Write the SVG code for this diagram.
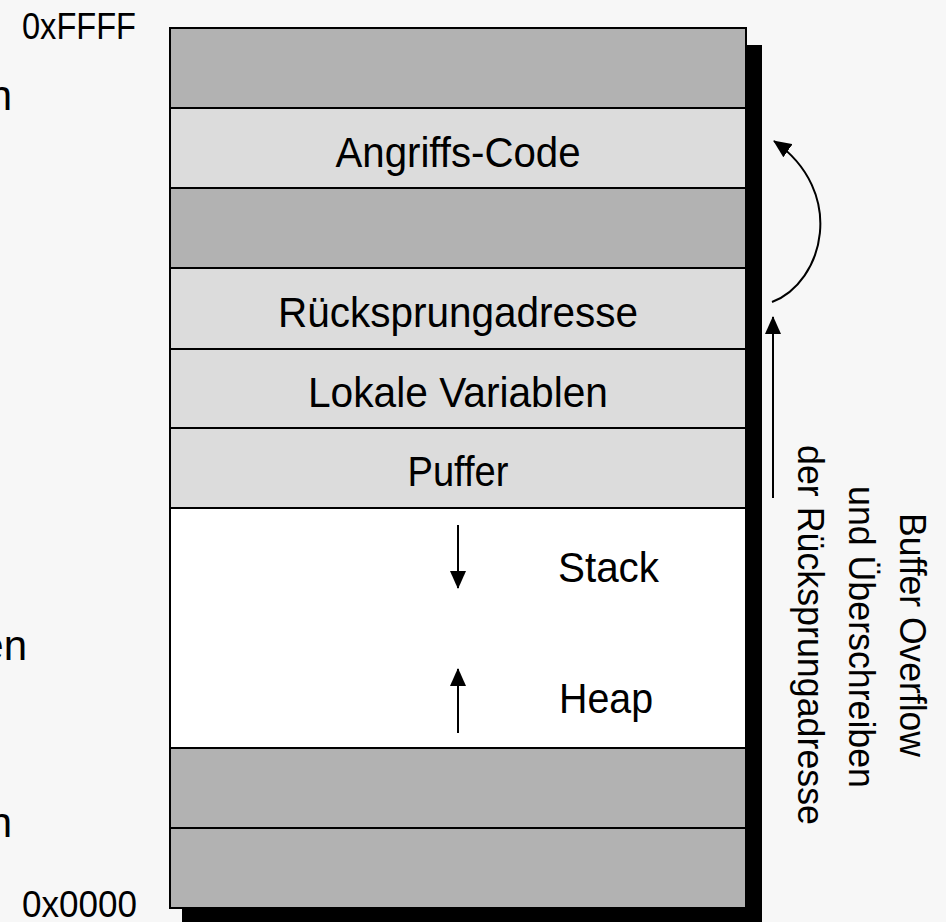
<svg xmlns="http://www.w3.org/2000/svg" width="946" height="922" viewBox="0 0 946 922">
  <style>
    text { font-family: "Liberation Sans", Arial, sans-serif; fill: #000; }
    .lbl { font-size: 42px; text-anchor: middle; }
    .lft { font-size: 42px; text-anchor: start; }
    .addr { font-size: 37px; }
    .side { font-size: 37px; text-anchor: middle; }
    .dark { fill: #b2b2b2; stroke: #000; stroke-width: 2; }
    .light { fill: #dcdcdc; stroke: #000; stroke-width: 2; }
    .white { fill: #ffffff; stroke: #000; stroke-width: 2; }
    .conn { fill: none; stroke: #000; stroke-width: 2; }
  </style>
  <defs>
    <marker id="ahBig" viewBox="0 0 18 16" refX="17" refY="8" markerWidth="18" markerHeight="16" orient="auto" markerUnits="userSpaceOnUse">
      <path d="M0,0 L18,8 L0,16 Z" fill="#000"/>
    </marker>
  </defs>
  <rect x="0" y="0" width="946" height="922" fill="#f7f7f7"/>

  <g id="left-texts">
    <text class="addr" x="22" y="39" textLength="114" lengthAdjust="spacingAndGlyphs">0xFFFF</text>
    <text class="addr" x="22" y="917" textLength="115" lengthAdjust="spacingAndGlyphs">0x0000</text>
    <text x="12" y="110" font-size="42" text-anchor="end">n</text>
    <text x="27" y="660" font-size="42" text-anchor="end">en</text>
    <text x="12" y="837" font-size="42" text-anchor="end">n</text>
  </g>

  <g id="shadow">
    <rect x="182" y="45" width="580" height="890" fill="#000"/>
  </g>

  <g id="mem-top"><rect class="dark" x="170" y="28" width="576" height="80"/></g>
  <g id="mem-angriffscode"><rect class="light" x="170" y="108" width="576" height="80"/><text class="lbl" x="458" y="167" textLength="245" lengthAdjust="spacingAndGlyphs">Angriffs-Code</text></g>
  <g id="mem-dark2"><rect class="dark" x="170" y="188" width="576" height="80"/></g>
  <g id="mem-ruecksprung"><rect class="light" x="170" y="268" width="576" height="81"/><text class="lbl" x="458" y="327" textLength="360" lengthAdjust="spacingAndGlyphs">Rücksprungadresse</text></g>
  <g id="mem-lokale"><rect class="light" x="170" y="349" width="576" height="79"/><text class="lbl" x="458" y="407" textLength="300" lengthAdjust="spacingAndGlyphs">Lokale Variablen</text></g>
  <g id="mem-puffer"><rect class="light" x="170" y="428" width="576" height="80"/><text class="lbl" x="458" y="486" textLength="101" lengthAdjust="spacingAndGlyphs">Puffer</text></g>
  <g id="mem-stackheap">
    <rect class="white" x="170" y="508" width="576" height="240"/>
    <text class="lft" x="558" y="582" textLength="101" lengthAdjust="spacingAndGlyphs">Stack</text>
    <text class="lft" x="559" y="713" textLength="94" lengthAdjust="spacingAndGlyphs">Heap</text>
  </g>
  <g id="mem-dark3"><rect class="dark" x="170" y="748" width="576" height="80"/></g>
  <g id="mem-dark4"><rect class="dark" x="170" y="828" width="576" height="80"/></g>

  <g id="connectors">
    <line class="conn" x1="458" y1="525" x2="458" y2="588" marker-end="url(#ahBig)"/>
    <line class="conn" x1="458" y1="733" x2="458" y2="669" marker-end="url(#ahBig)"/>
    <line class="conn" x1="773" y1="498" x2="773" y2="317" marker-end="url(#ahBig)"/>
    <path class="conn" d="M772,302 C824,282 847,192 774,141" marker-end="url(#ahBig)"/>
  </g>

  <g id="side-label">
    <text class="side" transform="translate(900,635) rotate(90)" textLength="244" lengthAdjust="spacingAndGlyphs">Buffer Overflow</text>
    <text class="side" transform="translate(849,637) rotate(90)" textLength="302" lengthAdjust="spacingAndGlyphs">und Überschreiben</text>
    <text class="side" transform="translate(798,635) rotate(90)" textLength="380" lengthAdjust="spacingAndGlyphs">der Rücksprungadresse</text>
  </g>
</svg>
